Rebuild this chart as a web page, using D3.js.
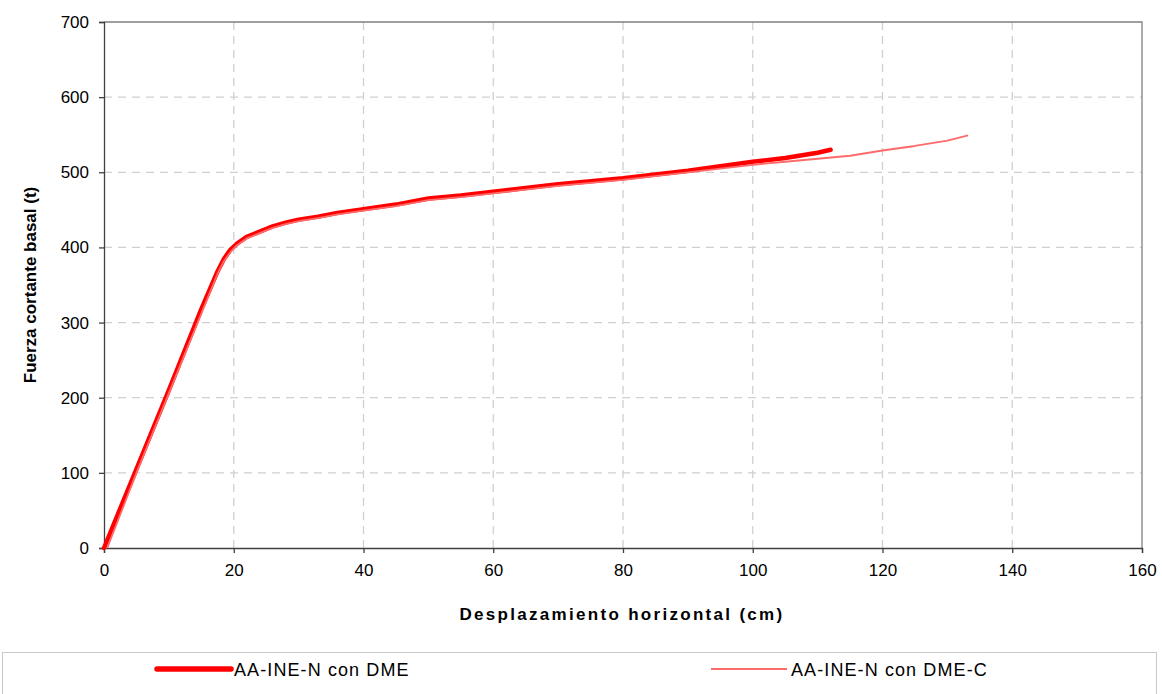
<!DOCTYPE html>
<html><head><meta charset="utf-8">
<script src="https://cdn.jsdelivr.net/npm/d3@7"></script>
<style>body{margin:0;background:#fff;} svg{display:block;font-family:"Liberation Sans",Arial,sans-serif;}</style>
</head><body>
<svg id="c" width="1162" height="694"></svg>
<script>
const xTicks = [0,20,40,60,80,100,120,140,160];
const yTicks = [0,100,200,300,400,500,600,700];
const seriesNames = ["AA-INE-N con DME","AA-INE-N con DME-C"];
const dmeX = [0,5,10,15,17.5,18.5,19.5,20.5,22,24,26,28,30,33,36,40,45,50,55,60,65,70,75,80,85,90,95,100,105,110,112];
const dmeY = [0,105,210,318,368,385,397,405,414,421,428,433,437,441,446,451,457,465,469,474,479,484,488,492,497,502,508,514,519,526,530];
const dmecX = [0.5,5,10,15,17.5,18.5,19.5,20.5,22,24,26,28,30,33,36,40,45,50,55,60,65,70,75,80,85,90,95,100,105,110,115,120,125,130,133.2];
const dmecY = [0,100,206,312,365,382,394,403,412,419,426,431,435,439,444,449,455,463,467,472,477,482,486,490,495,500,505,510,514,518,522,529,535,542,549];

const svg = d3.select("#c");
const L=104, R=1142, T=22, B=548;
const x = d3.scaleLinear().domain([0,160]).range([L,R]);
const y = d3.scaleLinear().domain([0,700]).range([B,T]);

// grid
svg.append("g").selectAll("line").data(xTicks.filter(d=>d>0&&d<160)).join("line")
  .attr("x1",d=>x(d)).attr("x2",d=>x(d)).attr("y1",T).attr("y2",B)
  .attr("stroke","#d0d0d0").attr("stroke-width",1.3).attr("stroke-dasharray","8,6");
svg.append("g").selectAll("line").data(yTicks.filter(d=>d>0&&d<700)).join("line")
  .attr("x1",L).attr("x2",R).attr("y1",d=>y(d)).attr("y2",d=>y(d))
  .attr("stroke","#d0d0d0").attr("stroke-width",1.3).attr("stroke-dasharray","8,6");
// frame top/right
svg.append("path").attr("d",`M${L},${T}H${R}V${B}`).attr("fill","none").attr("stroke","#808080").attr("stroke-width",1.3);

// axes
const xa = svg.append("g").attr("transform",`translate(0,${B})`)
  .call(d3.axisBottom(x).tickValues(xTicks).tickSize(5).tickPadding(11));
const ya = svg.append("g").attr("transform",`translate(${L},0)`)
  .call(d3.axisLeft(y).tickValues(yTicks).tickSize(5).tickPadding(10));
[xa,ya].forEach(a=>{
  a.selectAll("path,line").attr("stroke","#404040").attr("stroke-width",1.3);
  a.selectAll("text").attr("font-size",17).attr("fill","#000").attr("font-family","Liberation Sans, Arial, sans-serif");
});

// lines
const line = d3.line().x(d=>x(d[0])).y(d=>y(d[1]));
const dme = dmeX.map((v,i)=>[v,dmeY[i]]);
const dmec = dmecX.map((v,i)=>[v,dmecY[i]]);
svg.append("path").datum(dme).attr("d",line).attr("fill","none")
  .attr("stroke","#ff0000").attr("stroke-width",4.5).attr("stroke-linejoin","round").attr("stroke-linecap","round");
svg.append("path").datum(dmec).attr("d",line).attr("fill","none")
  .attr("stroke","#ff6a6a").attr("stroke-width",1.8).attr("stroke-linejoin","round");

// titles
svg.append("text").attr("x",(L+R)/2-1).attr("y",620).attr("text-anchor","middle")
  .attr("font-size",17).attr("font-weight","bold").attr("letter-spacing",2.3).text("Desplazamiento horizontal (cm)");
svg.append("text").attr("transform",`translate(36,${(T+B)/2}) rotate(-90)`).attr("text-anchor","middle")
  .attr("font-size",17).attr("font-weight","bold").text("Fuerza cortante basal (t)");

// legend
svg.append("rect").attr("x",2.5).attr("y",652.5).attr("width",1154).attr("height",50)
  .attr("fill","none").attr("stroke","#c8c8c8").attr("stroke-width",1);
const lg = [{x1:157,x2:231,w:5.5,c:"#ff0000",tx:234},{x1:711,x2:787,w:1.8,c:"#ff6a6a",tx:791}];
lg.forEach((d,i)=>{
  svg.append("line").attr("x1",d.x1).attr("x2",d.x2).attr("y1",669).attr("y2",669)
    .attr("stroke",d.c).attr("stroke-width",d.w).attr("stroke-linecap",i===0?"round":"butt");
  svg.append("text").attr("x",d.tx).attr("y",676).attr("font-size",18).attr("letter-spacing",1.1).text(seriesNames[i]);
});
</script>
</body></html>
